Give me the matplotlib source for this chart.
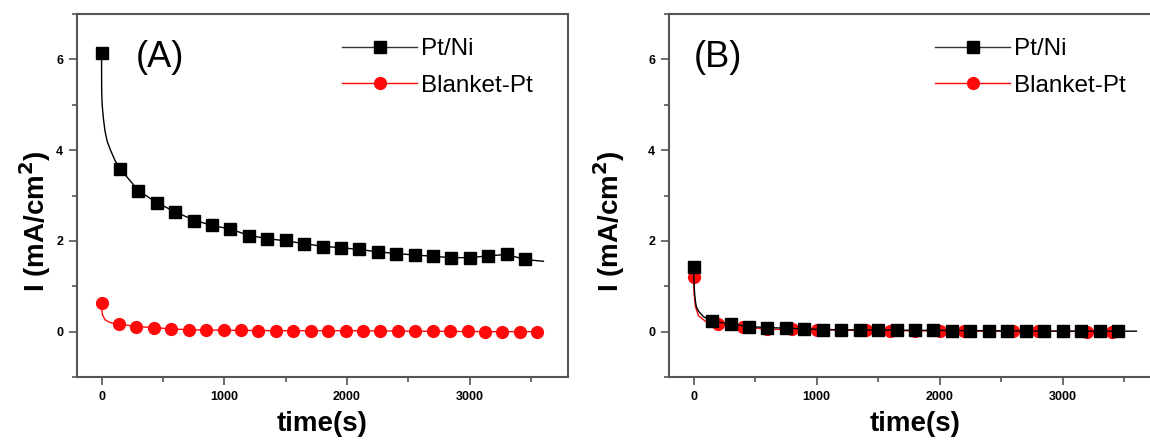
import matplotlib
matplotlib.use("Agg")
import matplotlib.pyplot as plt
from matplotlib.lines import Line2D
from matplotlib.ticker import MultipleLocator

plt.rcParams['font.family'] = ['Liberation Sans', 'DejaVu Sans']

# (A) chronoamperometry, markers
a_ptni_t = [0, 150, 300, 450, 600, 750, 900, 1050, 1200, 1350, 1500, 1650,
            1800, 1950, 2100, 2250, 2400, 2550, 2700, 2850, 3000, 3150, 3300, 3450]
a_ptni_i = [6.13, 3.59, 3.11, 2.84, 2.64, 2.44, 2.34, 2.27, 2.10, 2.05, 2.01, 1.94,
            1.87, 1.85, 1.81, 1.76, 1.72, 1.68, 1.66, 1.63, 1.63, 1.67, 1.71, 1.59]
a_blank_t = [0, 142, 284, 426, 568, 710, 852, 994, 1136, 1278, 1420, 1562, 1704,
             1846, 1988, 2130, 2272, 2414, 2556, 2698, 2840, 2982, 3124, 3266, 3408, 3550]
a_blank_i = [0.64, 0.17, 0.11, 0.09, 0.06, 0.04, 0.04, 0.03, 0.03, 0.02, 0.02, 0.02, 0.02,
             0.02, 0.02, 0.01, 0.01, 0.01, 0.01, 0.01, 0.01, 0.01, 0.00, 0.00, 0.00, 0.00]

# (A) recorded current traces
a_ptni_trace_t = [0, 1, 5, 15, 27, 45, 73, 110, 150, 300, 450, 600, 750, 900, 1050, 1200,
                  1350, 1500, 1650, 1800, 1950, 2100, 2250, 2400, 2550, 2700, 2850, 3000,
                  3150, 3300, 3450, 3600]
a_ptni_trace_i = [6.13, 5.30, 5.00, 4.70, 4.44, 4.20, 4.00, 3.77, 3.59, 3.11, 2.84, 2.64,
                  2.46, 2.34, 2.26, 2.12, 2.05, 2.00, 1.94, 1.88, 1.85, 1.81, 1.76, 1.72,
                  1.69, 1.66, 1.63, 1.63, 1.67, 1.70, 1.59, 1.55]
a_blank_trace_t = [0, 3, 10, 30, 60, 100, 142, 284, 426, 568, 710, 994, 1420, 1988, 2556, 3124, 3550]
a_blank_trace_i = [0.64, 0.45, 0.35, 0.26, 0.21, 0.18, 0.17, 0.11, 0.09, 0.06, 0.04, 0.03,
                   0.02, 0.02, 0.01, 0.00, 0.00]

# (B) markers
b_ptni_t = [0, 150, 300, 450, 600, 750, 900, 1050, 1200, 1350, 1500, 1650,
            1800, 1950, 2100, 2250, 2400, 2550, 2700, 2850, 3000, 3150, 3300, 3450]
b_ptni_i = [1.43, 0.23, 0.17, 0.11, 0.09, 0.07, 0.06, 0.04, 0.04, 0.04, 0.03, 0.03,
            0.03, 0.03, 0.02, 0.02, 0.02, 0.02, 0.01, 0.01, 0.01, 0.01, 0.01, 0.01]
b_blank_t = [0, 200, 400, 600, 800, 1000, 1200, 1400, 1600, 1800, 2000, 2200,
             2400, 2600, 2800, 3000, 3200, 3400]
b_blank_i = [1.20, 0.17, 0.11, 0.05, 0.05, 0.04, 0.03, 0.03, 0.02, 0.02, 0.02, 0.02,
             0.01, 0.01, 0.01, 0.01, 0.00, 0.00]

# (B) traces
b_ptni_trace_t = [0, 3, 8, 14, 22, 40, 80, 150, 300, 450, 600, 900, 1200, 1800, 2400, 3000, 3600]
b_ptni_trace_i = [1.43, 1.10, 0.85, 0.69, 0.55, 0.45, 0.33, 0.23, 0.17, 0.11, 0.09, 0.06,
                  0.04, 0.03, 0.02, 0.01, 0.01]
b_blank_trace_t = [0, 5, 15, 40, 100, 200, 400, 600, 1000, 1600, 2400, 3000, 3400]
b_blank_trace_i = [1.20, 0.80, 0.55, 0.35, 0.22, 0.17, 0.11, 0.05, 0.04, 0.02, 0.01, 0.01, 0.00]

BLACK = '#000000'
RED = '#ff0a0a'
SPINE = '#555555'

fig = plt.figure(figsize=(11.5, 4.43), dpi=100)
axA = fig.add_axes([77 / 1150, 66 / 443, 491 / 1150, 363 / 443])
axB = fig.add_axes([669 / 1150, 66 / 443, 492 / 1150, 363 / 443])


def style_axes(ax, ylabel_gap):
    ax.set_xlim(-200, 3800)
    ax.set_ylim(-1, 7)
    ax.xaxis.set_major_locator(MultipleLocator(1000))
    ax.xaxis.set_minor_locator(MultipleLocator(500))
    ax.yaxis.set_major_locator(MultipleLocator(2))
    ax.yaxis.set_minor_locator(MultipleLocator(1))
    for s in ax.spines.values():
        s.set_color(SPINE)
        s.set_linewidth(1.5)
    ax.tick_params(which='both', direction='out', color=SPINE, width=1.2,
                   top=False, right=False)
    ax.tick_params(which='major', length=6, labelsize=9, pad=4)
    ax.tick_params(which='minor', length=3.5)
    for lab in ax.get_xticklabels() + ax.get_yticklabels():
        lab.set_fontweight('bold')
    ax.set_xlabel('time(s)', fontsize=20, fontweight='bold')
    ax.set_ylabel(r'I (mA/cm$^\mathbf{2}$)', fontsize=20, fontweight='bold')
    ax.xaxis.set_label_coords(0.5, -0.095)
    # ylabel_gap: px between the label box and the left spine
    ax.yaxis.set_label_coords(-ylabel_gap / 491, 0.43)


def draw_panel(ax, ptni, blank, tag, tag_x, leg_anchor):
    (pt_t, pt_i, pt_tt, pt_ti) = ptni
    (bl_t, bl_i, bl_tt, bl_ti) = blank
    ax.plot(bl_tt, bl_ti, color=RED, lw=1.0, zorder=2)
    ax.plot(bl_t, bl_i, ls='none', marker='o', ms=8.5, color=RED, zorder=3)
    ax.plot(pt_tt, pt_ti, color=BLACK, lw=1.0, zorder=4)
    ax.plot(pt_t, pt_i, ls='none', marker='s', ms=8, color=BLACK, zorder=5)
    ax.text(tag_x, 0.88, tag, transform=ax.transAxes, fontsize=26,
            ha='left', va='center')
    handles = [Line2D([], [], color='#333333', lw=1.0, marker='s', ms=8, mfc=BLACK, mec=BLACK),
               Line2D([], [], color=RED, lw=1.0, marker='o', ms=8.5, mfc=RED, mec=RED)]
    ax.legend(handles, ['Pt/Ni', 'Blanket-Pt'], loc='upper left',
              bbox_to_anchor=leg_anchor, bbox_transform=fig.transFigure,
              frameon=False, fontsize=17.5, handlelength=3.1, handletextpad=0.15,
              labelspacing=0.6, borderpad=0, borderaxespad=0)


style_axes(axA, 24)
style_axes(axB, 42)

draw_panel(axA, (a_ptni_t, a_ptni_i, a_ptni_trace_t, a_ptni_trace_i),
           (a_blank_t, a_blank_i, a_blank_trace_t, a_blank_trace_i),
           '(A)', 0.12, (342 / 1150, 1 - 38 / 443))
draw_panel(axB, (b_ptni_t, b_ptni_i, b_ptni_trace_t, b_ptni_trace_i),
           (b_blank_t, b_blank_i, b_blank_trace_t, b_blank_trace_i),
           '(B)', 0.05, (935 / 1150, 1 - 38 / 443))

fig.savefig('out.png', dpi=100)
